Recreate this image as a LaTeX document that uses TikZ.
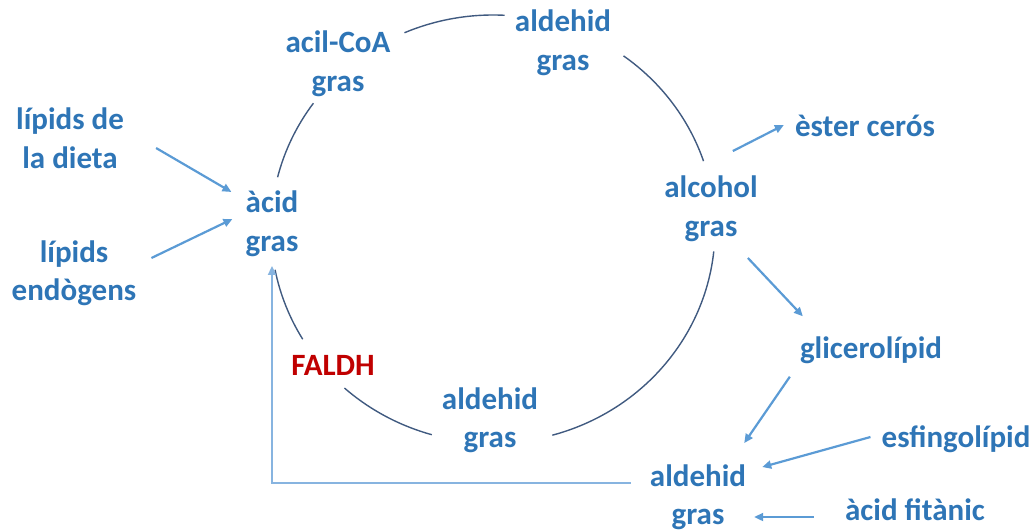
\documentclass[tikz,border=0pt]{standalone}
\usepackage{fontspec}
\setmainfont{Carlito}
\usetikzlibrary{arrows.meta}
\definecolor{txtblue}{RGB}{46,117,182}
\definecolor{arrblue}{RGB}{91,155,213}
\definecolor{backblue}{RGB}{135,180,224}
\definecolor{ringcol}{RGB}{64,90,128}
\definecolor{enzred}{RGB}{192,0,0}
\tikzset{
    lbl/.style={font=\bfseries\fontsize{31}{38.5}\selectfont, text=txtblue, align=center, inner sep=0pt},
    arr/.style={draw=arrblue, line width=2.2pt, -{Triangle[length=9pt,width=8pt]}},
    ring/.style={draw=ringcol, line width=1.4pt}
}
\begin{document}
\begin{tikzpicture}[x=1pt, y=1pt]
    \useasboundingbox (0,0) rectangle (1036,531);

    % cycle
    \coordinate (ctr) at (493,302);
    \node[lbl] (acid)    at (272,307) {àcid\\gras};
    \node[lbl] (acil)    at (338,467) {acil-CoA\\gras};
    \node[lbl] (aldtop)  at (563,488) {aldehid\\gras};
    \node[lbl] (alcohol) at (711,322) {alcohol\\gras};
    \node[lbl] (aldbot)  at (490,111) {aldehid\\gras};
    \node[lbl, text=enzred] (faldh) at (333,166) {FALDH};
    \foreach \a/\b in {144/166, 87/113.5, 18.5/54, -74.5/-6, -132/-106, -169/-149} {
        \draw[ring] ([shift={(\a:222pt and 214pt)}]ctr) arc[start angle=\a, end angle=\b, x radius=222pt, y radius=214pt];
    }

    % inputs
    \node[lbl] (dieta) at (70,393) {lípids de\\la dieta};
    \node[lbl] (endo)  at (74,258) {lípids\\endògens};
    \draw[arr] ([shift={(32,-10)}]dieta.east) -- ([shift={(-14,32)}]acid.west);
    \draw[arr] ([shift={(15,15)}]endo.east) -- ([shift={(-13,5)}]acid.west);

    % products
    \node[lbl] (ester)   at (865,405) {èster cerós};
    \node[lbl] (glic)    at (871,181) {glicerolípid};
    \node[lbl] (esfing)  at (956,92)  {esfingolípid};
    \node[lbl] (aldlow)  at (698,34)  {aldehid\\gras};
    \node[lbl] (fitanic) at (915,21)  {àcid fitànic};
    \draw[arr] ([shift={(-25,25)}]alcohol.north east) -- ([shift={(-11,1)}]ester.west);
    \draw[arr] ([shift={(-10,-16)}]alcohol.south east) -- ([shift={(3,20)}]glic.north west);
    \draw[arr] ([shift={(-10,-13)}]glic.south west) -- ([shift={(-2,21)}]aldlow.north east);
    \draw[arr] ([shift={(-11,2)}]esfing.west) -- ([shift={(16,-3)}]aldlow.north east);
    \draw[arr] ([shift={(-31,-7)}]fitanic.west) -- ([shift={(8,-20)}]aldlow.east);

    % back to acid
    \draw[arr, draw=backblue, line width=2pt] ([shift={(-19,14)}]aldlow.west) -| ([yshift=-9pt]acid.south);
\end{tikzpicture}
\end{document}
